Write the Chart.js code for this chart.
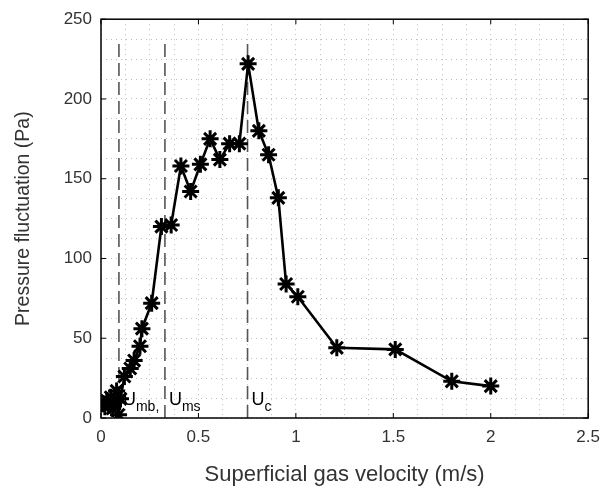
<!DOCTYPE html>
<html>
<head>
<meta charset="utf-8">
<script src="https://cdn.jsdelivr.net/npm/chart.js@4/dist/chart.umd.min.js"></script>
<style>
  html, body { margin: 0; padding: 0; background: #fff; }
  #box { width: 609px; height: 493px; }
</style>
</head>
<body>
<div id="box"><canvas id="pfChart" width="609" height="493"></canvas></div>
<script>
// gas velocity (m/s) and pressure fluctuation (Pa)
const velocity = [0.01, 0.02, 0.03, 0.04, 0.05, 0.06, 0.07, 0.08, 0.09, 0.10,
  0.12, 0.15, 0.17, 0.20, 0.21, 0.26, 0.31, 0.36, 0.41, 0.46, 0.51, 0.56,
  0.61, 0.66, 0.71, 0.755, 0.81, 0.86, 0.91, 0.95, 1.01, 1.21, 1.51, 1.80, 2.00];
const pressure = [9, 7, 11, 8, 13, 6, 10, 17, 2, 12,
  26, 31, 36, 45, 56, 72, 120, 121, 158, 142, 159, 175,
  162, 172, 172, 222, 180, 165, 138, 84, 76, 44, 43, 23, 20];

// transition velocities marked with dashed lines
const markNames = ["mb,", "ms", "c"];
const markVelocity = [0.092, 0.328, 0.752];
const markTop = 236;

const xTicks = [0, 0.5, 1, 1.5, 2, 2.5];
const yTicks = [0, 50, 100, 150, 200, 250];

const FONT = "'Liberation Sans', Arial, sans-serif";

function markLine(v) {
  return {
    data: [{ x: v, y: 0 }, { x: v, y: markTop }],
    borderColor: "#555",
    borderWidth: 1.6,
    borderDash: [13, 6],
    pointRadius: 0,
    fill: false
  };
}

const framePlugin = {
  id: "frame",
  afterDatasetsDraw(chart) {
    const ctx = chart.ctx;
    const a = chart.chartArea;
    const xs = chart.scales.x;
    const ys = chart.scales.y;
    ctx.save();
    ctx.strokeStyle = "#000";
    ctx.lineWidth = 1.5;
    ctx.strokeRect(a.left, a.top, a.right - a.left, a.bottom - a.top);
    ctx.lineWidth = 1;
    ctx.beginPath();
    xTicks.forEach(v => {
      const px = xs.getPixelForValue(v);
      ctx.moveTo(px, a.bottom); ctx.lineTo(px, a.bottom - 5);
      ctx.moveTo(px, a.top); ctx.lineTo(px, a.top + 5);
    });
    yTicks.forEach(v => {
      const py = ys.getPixelForValue(v);
      ctx.moveTo(a.left, py); ctx.lineTo(a.left + 5, py);
      ctx.moveTo(a.right, py); ctx.lineTo(a.right - 5, py);
    });
    ctx.stroke();

    // U labels next to the dashed lines
    ctx.fillStyle = "#000";
    ctx.textBaseline = "alphabetic";
    markVelocity.forEach((v, i) => {
      const px = xs.getPixelForValue(v) + 4;
      const py = ys.getPixelForValue(8);
      ctx.font = "18px " + FONT;
      ctx.fillText("U", px, py);
      const w = ctx.measureText("U").width;
      ctx.font = "14px " + FONT;
      ctx.fillText(markNames[i], px + w, py + 6);
    });
    ctx.restore();
  }
};

function renderChart() {
  const points = velocity.map((v, i) => ({ x: v, y: pressure[i] }));
  const ctx = document.getElementById("pfChart").getContext("2d");
  const gridStyle = { color: "#bdbdbd", lineWidth: 1, drawTicks: false };
  new Chart(ctx, {
    type: "line",
    data: {
      datasets: [{
        data: points,
        borderColor: "#000",
        borderWidth: 2.6,
        pointStyle: "star",
        pointRadius: 8.5,
        pointBorderWidth: 3,
        pointBorderColor: "#000",
        pointBackgroundColor: "#000",
        tension: 0,
        fill: false
      }].concat(markVelocity.map(markLine))
    },
    options: {
      responsive: false,
      animation: false,
      layout: { padding: { top: 16, right: 20, left: 0, bottom: 0 } },
      plugins: { legend: { display: false }, tooltip: { enabled: false } },
      scales: {
        x: {
          type: "linear",
          min: 0,
          max: 2.5,
          afterFit: s => { s.height = 75; },
          grid: gridStyle,
          border: { display: false, dash: [1, 4] },
          ticks: {
            stepSize: 0.125,
            autoSkip: false,
            maxRotation: 0,
            padding: 9,
            color: "#333",
            font: { family: FONT, size: 17 },
            callback: v => (xTicks.includes(v) ? String(v) : "")
          },
          title: {
            display: true,
            text: "Superficial gas velocity (m/s)",
            color: "#333",
            padding: { top: 0, bottom: 5 },
            font: { family: FONT, size: 22 }
          }
        },
        y: {
          type: "linear",
          min: 0,
          max: 250,
          afterFit: s => { s.width = 101; },
          grid: gridStyle,
          border: { display: false, dash: [1, 4] },
          ticks: {
            stepSize: 12.5,
            autoSkip: false,
            padding: 9,
            color: "#333",
            font: { family: FONT, size: 17 },
            callback: v => (yTicks.includes(v) ? String(v) : "")
          },
          title: {
            display: true,
            text: "Pressure fluctuation (Pa)",
            color: "#333",
            padding: { top: 12, bottom: 0 },
            font: { family: FONT, size: 19.5 }
          }
        }
      }
    },
    plugins: [framePlugin]
  });
}

window.addEventListener("DOMContentLoaded", renderChart);
</script>
</body>
</html>
